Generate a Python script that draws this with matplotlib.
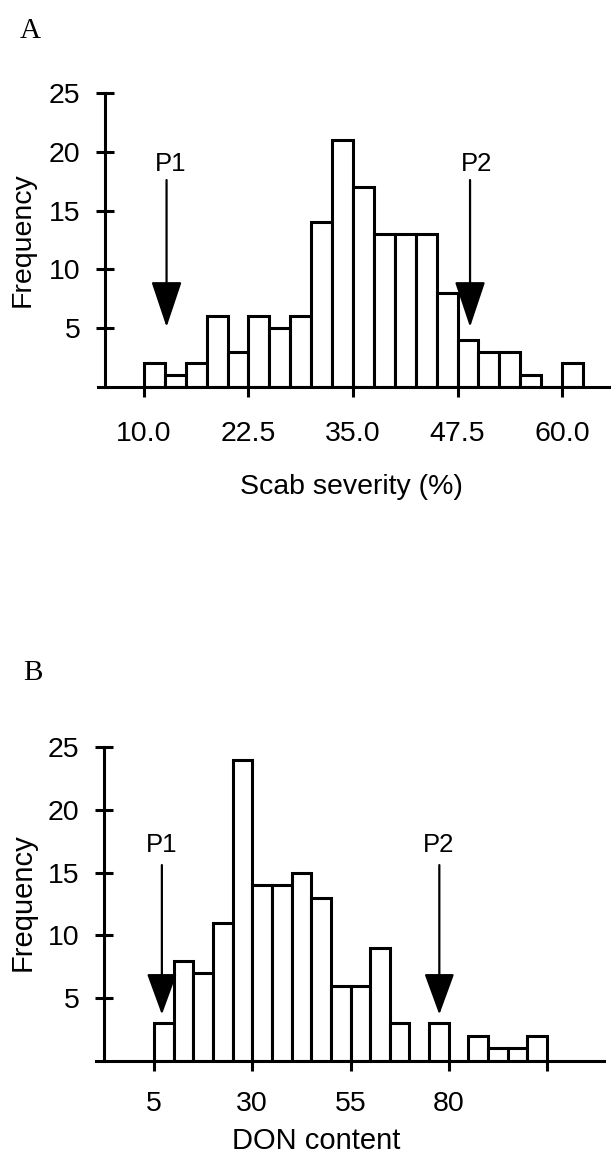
import matplotlib
matplotlib.use("Agg")
import matplotlib.pyplot as plt

plt.rcParams["font.family"] = ["Liberation Sans", "DejaVu Sans"]

# ── data ──────────────────────────────────────────────────────────────────────
scab_left = [10.0, 12.5, 15.0, 17.5, 20.0, 22.5, 25.0, 27.5, 30.0, 32.5, 35.0,
             37.5, 40.0, 42.5, 45.0, 47.5, 50.0, 52.5, 55.0, 57.5, 60.0]
scab_freq = [2, 1, 2, 6, 3, 6, 5, 6, 14, 21, 17, 13, 13, 13, 8, 4, 3, 3, 1, 0, 2]
scab_width = 2.5
scab_ticks = [10.0, 22.5, 35.0, 47.5, 60.0]
scab_ticklabels = ["10.0", "22.5", "35.0", "47.5", "60.0"]

don_left = [5, 10, 15, 20, 25, 30, 35, 40, 45, 50, 55, 60, 65, 70, 75, 80,
            85, 90, 95, 100]
don_freq = [3, 8, 7, 11, 24, 14, 14, 15, 13, 6, 6, 9, 3, 0, 3, 0, 2, 1, 1, 2]
don_width = 5
don_ticks = [5, 30, 55, 80, 105]
don_ticklabels = ["5", "30", "55", "80", ""]

freq_ticks = [5, 10, 15, 20, 25]

# parent markers: (label, arrow x, label x)
scab_parents = [("P1", 12.7, 13.2), ("P2", 49.0, 49.75)]
don_parents = [("P1", 7.0, 6.9), ("P2", 77.6, 77.4)]

W, H = 611, 1158
fig = plt.figure(figsize=(W / 100, H / 100), dpi=100)


def px_axes(left, right, top, bottom):
    return fig.add_axes([left / W, 1 - bottom / H, (right - left) / W, (bottom - top) / H])


def style(ax, xlim, spine_x, ticks, ticklabels, xpad):
    ax.set_xlim(*xlim)
    ax.set_ylim(0, 25)
    for s in ["top", "right"]:
        ax.spines[s].set_visible(False)
    ax.spines["left"].set_position(("data", spine_x))
    ax.spines["left"].set_bounds(0, 25)
    for s in ["left", "bottom"]:
        ax.spines[s].set_linewidth(2.2)
    ax.set_yticks(freq_ticks)
    ax.set_xticks(ticks)
    ax.set_xticklabels(ticklabels)
    ax.tick_params(axis="y", direction="inout", length=12.5, width=2.2,
                   labelsize=20.5, pad=11.5)
    ax.tick_params(axis="x", direction="out", length=7, width=2.2,
                   labelsize=20.5, pad=xpad)
    ax.patch.set_visible(False)


def arrows(ax, parents, y_start, y_tip, y_label, head_len, head_w):
    for name, x, lx in parents:
        ax.annotate("", xy=(x, y_tip), xytext=(x, y_start),
                    arrowprops=dict(arrowstyle=f"-|>,head_length={head_len},head_width={head_w}",
                                    lw=1.6, color="black", fc="black",
                                    shrinkA=0, shrinkB=0, mutation_scale=10),
                    annotation_clip=False)
        ax.text(lx, y_label, name, ha="center", va="center", fontsize=18.5)


# ── panel A ───────────────────────────────────────────────────────────────────
axA = px_axes(98, 611, 93, 387)
axA.bar(scab_left, scab_freq, width=scab_width, align="edge",
        facecolor="white", edgecolor="black", linewidth=2.2)
style(axA, (4.5, 65.86), 5.33, scab_ticks, scab_ticklabels, 17.5)
arrows(axA, scab_parents, 17.6, 5.1, 19.0, 2.9, 0.97)
fig.text(351 / W, 1 - 487 / H, "Scab severity (%)", ha="center", va="center", fontsize=20.5)
fig.text(23 / W, 1 - 240 / H, "Frequency", ha="center", va="center",
         rotation=90, fontsize=20.5)
fig.text(30 / W, 1 - 31 / H, "A", ha="center", va="center", fontsize=21,
         family="Liberation Serif")

# ── panel B ───────────────────────────────────────────────────────────────────
axB = px_axes(96, 604, 747, 1061)
axB.bar(don_left, don_freq, width=don_width, align="edge",
        facecolor="white", edgecolor="black", linewidth=2.2)
style(axB, (-9.76, 119.5), -7.72, don_ticks, don_ticklabels, 14.5)
arrows(axB, don_parents, 15.6, 3.7, 17.2, 2.6, 0.95)
fig.text(316 / W, 1 - 1141 / H, "DON content", ha="center", va="center", fontsize=21)
fig.text(23 / W, 1 - 902 / H, "Frequency", ha="center", va="center",
         rotation=90, fontsize=21)
fig.text(33 / W, 1 - 673 / H, "B", ha="center", va="center", fontsize=21,
         family="Liberation Serif")

fig.savefig("out.png", dpi=100)
